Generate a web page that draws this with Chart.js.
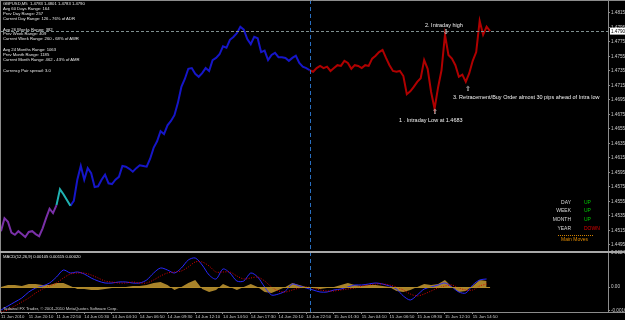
<!DOCTYPE html>
<html>
<head>
<meta charset="utf-8">
<script src="https://cdn.jsdelivr.net/npm/chart.js@4.4.1/dist/chart.umd.min.js"></script>
<style>
  html, body { margin: 0; padding: 0; background: #000; }
  #wrap { position: relative; width: 625px; height: 320px; background: #000; overflow: hidden; font-family: "Liberation Sans", Arial, sans-serif; }
  #wrap canvas { position: absolute; left: 0; top: 0; }
  .t { position: absolute; white-space: pre; color: #e6e6e6; line-height: 1; }
  .info { font-size: 4.2px; }
  .note { font-size: 5.5px; color: #f0f0f0; }
  .arrow { font-family: "DejaVu Sans", sans-serif; font-size: 7px; color: #f0f0f0; }
  .trend { font-size: 5px; color: #d8d8d8; }
</style>
</head>
<body>
<div id="wrap">
  <canvas id="chart" width="625" height="320"></canvas>
  <div id="overlay"></div>
</div>
<script>
/* GBPUSD M5 – close samples (one every 20 min), MACD pane, time ticks */

const timeTicks = ['11 Jun 2010', '11 Jun 20:10', '11 Jun 22:50', '14 Jun 01:30', '14 Jun 04:10', '14 Jun 06:50',
  '14 Jun 09:30', '14 Jun 12:10', '14 Jun 14:50', '14 Jun 17:30', '14 Jun 20:10', '14 Jun 22:50',
  '15 Jun 01:30', '15 Jun 04:10', '15 Jun 06:50', '15 Jun 09:30', '15 Jun 12:10', '15 Jun 14:50'];

const closes = [
  1.4514, 1.4532, 1.4527, 1.4512, 1.4509, 1.4514, 1.4510, 1.4506, 1.4513, 1.4514,
  1.4510, 1.4507, 1.4518, 1.4532, 1.4545, 1.4539, 1.4550, 1.4572, 1.4565, 1.4557,
  1.4549, 1.4556, 1.4585, 1.4604, 1.4585, 1.4601, 1.4594, 1.4575, 1.4576, 1.4585,
  1.4592, 1.4580, 1.4579, 1.4585, 1.4589, 1.4604, 1.4603, 1.4600, 1.4596, 1.4601,
  1.4605, 1.4604, 1.4603, 1.4614, 1.4629, 1.4638, 1.4652, 1.4648, 1.4660, 1.4666,
  1.4674, 1.4691, 1.4713, 1.4724, 1.4738, 1.4739, 1.4731, 1.4727, 1.4732, 1.4739,
  1.4735, 1.4750, 1.4753, 1.4758, 1.4769, 1.4767, 1.4778, 1.4782, 1.4787, 1.4796,
  1.4792, 1.4779, 1.4772, 1.4782, 1.4780, 1.4761, 1.4763, 1.4750, 1.4757, 1.4760,
  1.4754, 1.4754, 1.4753, 1.4749, 1.4753, 1.4756, 1.4746, 1.4741, 1.4739, 1.4736,
  1.4734, 1.4739, 1.4742, 1.4739, 1.4741, 1.4735, 1.4739, 1.4743, 1.4742, 1.4749,
  1.4746, 1.4738, 1.4743, 1.4742, 1.4739, 1.4743, 1.4742, 1.4752, 1.4756, 1.4761,
  1.4764, 1.4753, 1.4743, 1.4735, 1.4734, 1.4735, 1.4728, 1.4703, 1.4707, 1.4713,
  1.4720, 1.4725, 1.4750, 1.4738, 1.4706, 1.4683, 1.4712, 1.4736, 1.4785, 1.4757,
  1.4752, 1.4743, 1.4727, 1.4730, 1.4720, 1.4732, 1.4749, 1.4761, 1.4804, 1.4785,
  1.4796, 1.4790
];

// first sample of each coloured session
const sessionStarts = [0, 16, 20, 89];

// MACD pane, one value every second close sample
const macdMain = [
  -0.00161, -0.00133, -0.00105, -0.00077, -0.00035, -0.00007, 0.00007, 0.00028, 0.00070, 0.00119,
  0.00098, 0.00105, 0.00091, 0.00063, 0.00042, 0.00028, 0.00028, 0.00035, 0.00035, 0.00028,
  0.00028, 0.00049, 0.00098, 0.00133, 0.00119, 0.00098, 0.00133, 0.00189, 0.00203, 0.00154,
  0.00084, 0.00056, 0.00126, 0.00098, 0.00042, 0.00042, 0.00098, 0.00070, 0.00000, -0.00056,
  -0.00049, -0.00028, 0.00021, 0.00007, -0.00007, -0.00021, -0.00035, -0.00035, -0.00021, -0.00014,
  0.00000, 0.00014, 0.00014, 0.00021, 0.00028, 0.00021, 0.00007, -0.00014, -0.00063, -0.00091,
  -0.00056, -0.00014, 0.00000, 0.00014, 0.00028, 0.00000, -0.00035, -0.00042, 0.00014, 0.00049,
  0.00056
];
const macdSignal = [
  -0.00175, -0.00161, -0.00133, -0.00105, -0.00077, -0.00042, -0.00014, 0.00007, 0.00028, 0.00063,
  0.00091, 0.00098, 0.00098, 0.00084, 0.00063, 0.00042, 0.00035, 0.00028, 0.00028, 0.00035,
  0.00028, 0.00028, 0.00049, 0.00077, 0.00098, 0.00105, 0.00112, 0.00140, 0.00175, 0.00175,
  0.00147, 0.00105, 0.00105, 0.00105, 0.00077, 0.00056, 0.00063, 0.00070, 0.00042, 0.00000,
  -0.00028, -0.00035, -0.00021, -0.00007, 0.00000, -0.00007, -0.00021, -0.00028, -0.00028, -0.00021,
  -0.00014, -0.00007, 0.00007, 0.00014, 0.00021, 0.00021, 0.00014, 0.00000, -0.00021, -0.00049,
  -0.00063, -0.00049, -0.00028, -0.00007, 0.00007, 0.00014, -0.00007, -0.00021, -0.00021, 0.00007,
  0.00021
];
const macdHist = [
  0.00000, 0.00014, 0.00014, 0.00007, 0.00021, 0.00021, 0.00014, 0.00014, 0.00028, 0.00028,
  0.00007, -0.00014, -0.00014, -0.00021, -0.00021, -0.00014, -0.00007, 0.00000, 0.00000, 0.00007,
  0.00007, 0.00014, 0.00028, 0.00035, 0.00014, -0.00021, 0.00000, 0.00028, 0.00049, -0.00014,
  -0.00035, -0.00021, 0.00021, 0.00000, -0.00021, 0.00000, 0.00021, 0.00000, -0.00035, -0.00042,
  -0.00021, 0.00000, 0.00028, 0.00014, 0.00000, -0.00007, -0.00014, -0.00007, 0.00000, 0.00014,
  0.00028, 0.00014, 0.00007, 0.00014, 0.00014, 0.00007, 0.00000, -0.00028, -0.00035, -0.00021,
  0.00000, 0.00021, 0.00014, 0.00021, 0.00049, 0.00000, -0.00035, -0.00028, 0.00007, 0.00049,
  0.00042
];

const priceTicks = [1.4815, 1.4795, 1.4775, 1.4755, 1.4735, 1.4715, 1.4695, 1.4675, 1.4655,
  1.4635, 1.4615, 1.4595, 1.4575, 1.4555, 1.4535, 1.4515, 1.4495];
const macdTicks = [0.00241, 0, -0.00163];
const separatorIndex = 89;

const infoLines = [
  ['GBPUSD,M5  1.4783 1.4801 1.4783 1.4790', 4],
  ['Avg 60 Days Range: 164', 9],
  ['Prev Day Range: 257', 14],
  ['Current Day Range: 126 - 76% of ADR', 19],
  ['Avg 26 Weeks Range: 382', 30],
  ['Prev Week Range: 409', 34.5],
  ['Current Week Range: 260 - 68% of AWR', 39.5],
  ['Avg 24 Months Range: 1063', 50],
  ['Prev Month Range: 1185', 55],
  ['Current Month Range: 462 - 43% of AMR', 60],
  ['Currency Pair spread: 3.0', 71]
];
const trends = [['DAY', 'UP'], ['WEEK', 'UP'], ['MONTH', 'UP'], ['YEAR', 'DOWN']];

const SAMPLE_SPAN = 175;
const lastClose = closes[closes.length - 1];

function overlay() {
  const o = document.getElementById('overlay');
  let html = '';
  infoLines.forEach(([txt, y]) => {
    html += `<div class="t info" style="left:3px;top:${y - 2.2}px">${txt}</div>`;
  });
  html += `<div class="t note" style="left:425px;top:23px">2. Intraday high</div>`;
  html += `<div class="t arrow" style="left:443px;top:29px">⇩</div>`;
  html += `<div class="t note" style="left:399px;top:118px">1 . Intraday Low at 1.4683</div>`;
  html += `<div class="t arrow" style="left:432px;top:109px">⇧</div>`;
  html += `<div class="t note" style="left:453px;top:95px">3. Retracement/Buy Order almost 30 pips ahead of Intra low</div>`;
  html += `<div class="t arrow" style="left:465px;top:86px">⇧</div>`;
  trends.forEach(([k, v], i) => {
    const y = 199.5 + i * 8.7;
    html += `<div class="t trend" style="right:54px;top:${y}px">${k}</div>`;
    html += `<div class="t trend" style="left:584px;top:${y}px;color:${v === 'UP' ? '#00c800' : '#e00000'}">${v}</div>`;
  });
  html += `<div style="position:absolute;left:558px;top:235px;width:35px;border-top:1px dotted #d08000"></div>`;
  html += `<div class="t trend" style="left:561px;top:237px;color:#e08a00">Main Moves</div>`;
  html += `<div class="t info" style="left:3px;top:255px">MACD(12,26,9) 0.00105 0.00115 0.00020</div>`;
  html += `<div class="t info" style="left:3px;top:307px;color:#d0d0d0">Tadawul FX Trader, © 2001-2010 MetaQuotes Software Corp.</div>`;
  o.innerHTML = html;
}

const terminalLines = {
  id: 'terminalLines',
  afterDatasetsDraw(chart) {
    const { ctx, chartArea: a, scales } = chart;
    ctx.save();
    // histogram baseline
    ctx.strokeStyle = '#b08a2a';
    ctx.lineWidth = 1;
    const z = Math.round(scales.y2.getPixelForValue(0)) + 0.5;
    ctx.beginPath();
    ctx.moveTo(scales.x.getPixelForValue(0), z);
    ctx.lineTo(scales.x.getPixelForValue(closes.length - 1), z);
    ctx.stroke();
    // bid line
    const b = Math.round(scales.y.getPixelForValue(lastClose)) + 0.5;
    ctx.strokeStyle = '#7f8f8f';
    ctx.setLineDash([3, 2]);
    ctx.beginPath();
    ctx.moveTo(a.left, b);
    ctx.lineTo(a.right, b);
    ctx.stroke();
    // session separator
    const sx = Math.round(scales.x.getPixelForValue(separatorIndex)) + 0.5;
    ctx.strokeStyle = '#2a6fc0';
    ctx.setLineDash([4, 3]);
    ctx.beginPath();
    ctx.moveTo(sx, a.top);
    ctx.lineTo(sx, a.bottom);
    ctx.stroke();
    ctx.restore();
  },
  afterDraw(chart) {
    const { ctx, chartArea: a, scales } = chart;
    ctx.save();
    ctx.strokeStyle = '#8c8c8c';
    ctx.lineWidth = 1;
    ctx.beginPath();
    ctx.moveTo(0, 0.5); ctx.lineTo(625, 0.5);
    ctx.moveTo(0.5, 0); ctx.lineTo(0.5, a.bottom);
    ctx.moveTo(0, a.bottom + 0.5); ctx.lineTo(625, a.bottom + 0.5);
    ctx.stroke();
    ctx.strokeStyle = '#a8a8a8';
    ctx.lineWidth = 2;
    const sep = Math.round(scales.y.bottom);
    ctx.beginPath();
    ctx.moveTo(0, sep); ctx.lineTo(625, sep);
    ctx.stroke();
    // current price box
    const b = scales.y.getPixelForValue(lastClose);
    ctx.fillStyle = '#ffffff';
    ctx.fillRect(a.right + 2, b - 3.5, 15, 7);
    ctx.fillStyle = '#000000';
    ctx.font = '4.6px "Liberation Sans", Arial, sans-serif';
    ctx.textBaseline = 'middle';
    ctx.fillText(lastClose.toFixed(4), a.right + 3, b + 0.3);
    ctx.restore();
  }
};

// keep the plot edges fixed: no label-overflow padding
const noPad = s => { s.paddingTop = 0; s.paddingBottom = 0; s.paddingLeft = 0; s.paddingRight = 0; };

const sessionColors = ['#7a30a8', '#20b2b2', '#1616c8', '#b00000'];
const priceSets = sessionStarts.map((from, s) => {
  const to = s + 1 < sessionStarts.length ? sessionStarts[s + 1] : closes.length - 1;
  return {
    data: closes.slice(from, to + 1).map((v, k) => ({ x: from + k, y: v })),
    borderColor: sessionColors[s],
    borderWidth: 2,
    tension: 0,
    yAxisID: 'y'
  };
});
const pane = arr => arr.map((v, k) => ({ x: k * 2, y: v }));

const tickFont = { family: '"Liberation Sans", Arial, sans-serif', size: 4.6 };

overlay();
new Chart(document.getElementById('chart'), {
  type: 'line',
  data: {
    datasets: [
      ...priceSets,
      { data: pane(macdSignal), borderColor: '#e00000', borderWidth: 1, borderDash: [1, 1.5], tension: 0.3, yAxisID: 'y2' },
      { data: pane(macdMain), borderColor: '#2828ff', borderWidth: 1, tension: 0.3, yAxisID: 'y2' },
      { data: pane(macdHist), borderWidth: 0, backgroundColor: '#a8832a', fill: 'origin', tension: 0, yAxisID: 'y2' }
    ]
  },
  options: {
    responsive: false,
    animation: false,
    devicePixelRatio: 1,
    layout: { padding: { left: 1, top: 0, right: 0, bottom: 0 } },
    elements: { point: { radius: 0 } },
    plugins: { legend: { display: false }, tooltip: { enabled: false } },
    scales: {
      x: {
        type: 'linear', min: 0, max: SAMPLE_SPAN,
        afterBuildTicks: s => { s.ticks = timeTicks.map((_, k) => ({ value: k * 8 })); },
        afterFit: s => { s.height = 8; noPad(s); },
        ticks: { align: 'start', padding: 0, color: '#cfcfcf', font: { ...tickFont, size: 4.3 }, maxRotation: 0, autoSkip: false,
          callback: v => timeTicks[v / 8] || '' },
        grid: { drawOnChartArea: false, drawTicks: true, tickLength: 2, color: '#8c8c8c' },
        border: { display: false }
      },
      y: {
        position: 'right', stack: 'pane', stackWeight: 252, min: 1.44853, max: 1.48329,
        afterBuildTicks: s => { s.ticks = priceTicks.map(v => ({ value: v })); },
        afterFit: s => { s.width = 17; noPad(s); },
        ticks: { padding: 1, color: '#cfcfcf', font: tickFont, autoSkip: false, callback: v => v.toFixed(4) },
        grid: { drawOnChartArea: false, tickLength: 2, color: '#8c8c8c' },
        border: { color: '#8c8c8c' }
      },
      y2: {
        position: 'right', stack: 'pane', stackWeight: 60, min: -0.00175, max: 0.00245,
        afterBuildTicks: s => { s.ticks = macdTicks.map(v => ({ value: v })); },
        afterFit: s => { s.width = 17; noPad(s); },
        ticks: { padding: 1, color: '#cfcfcf', font: tickFont, autoSkip: false,
          callback: v => v === 0 ? '0.00' : v.toFixed(5) },
        grid: { drawOnChartArea: false, tickLength: 2, color: '#8c8c8c' },
        border: { color: '#8c8c8c' }
      }
    }
  },
  plugins: [terminalLines]
});
</script>
</body>
</html>
